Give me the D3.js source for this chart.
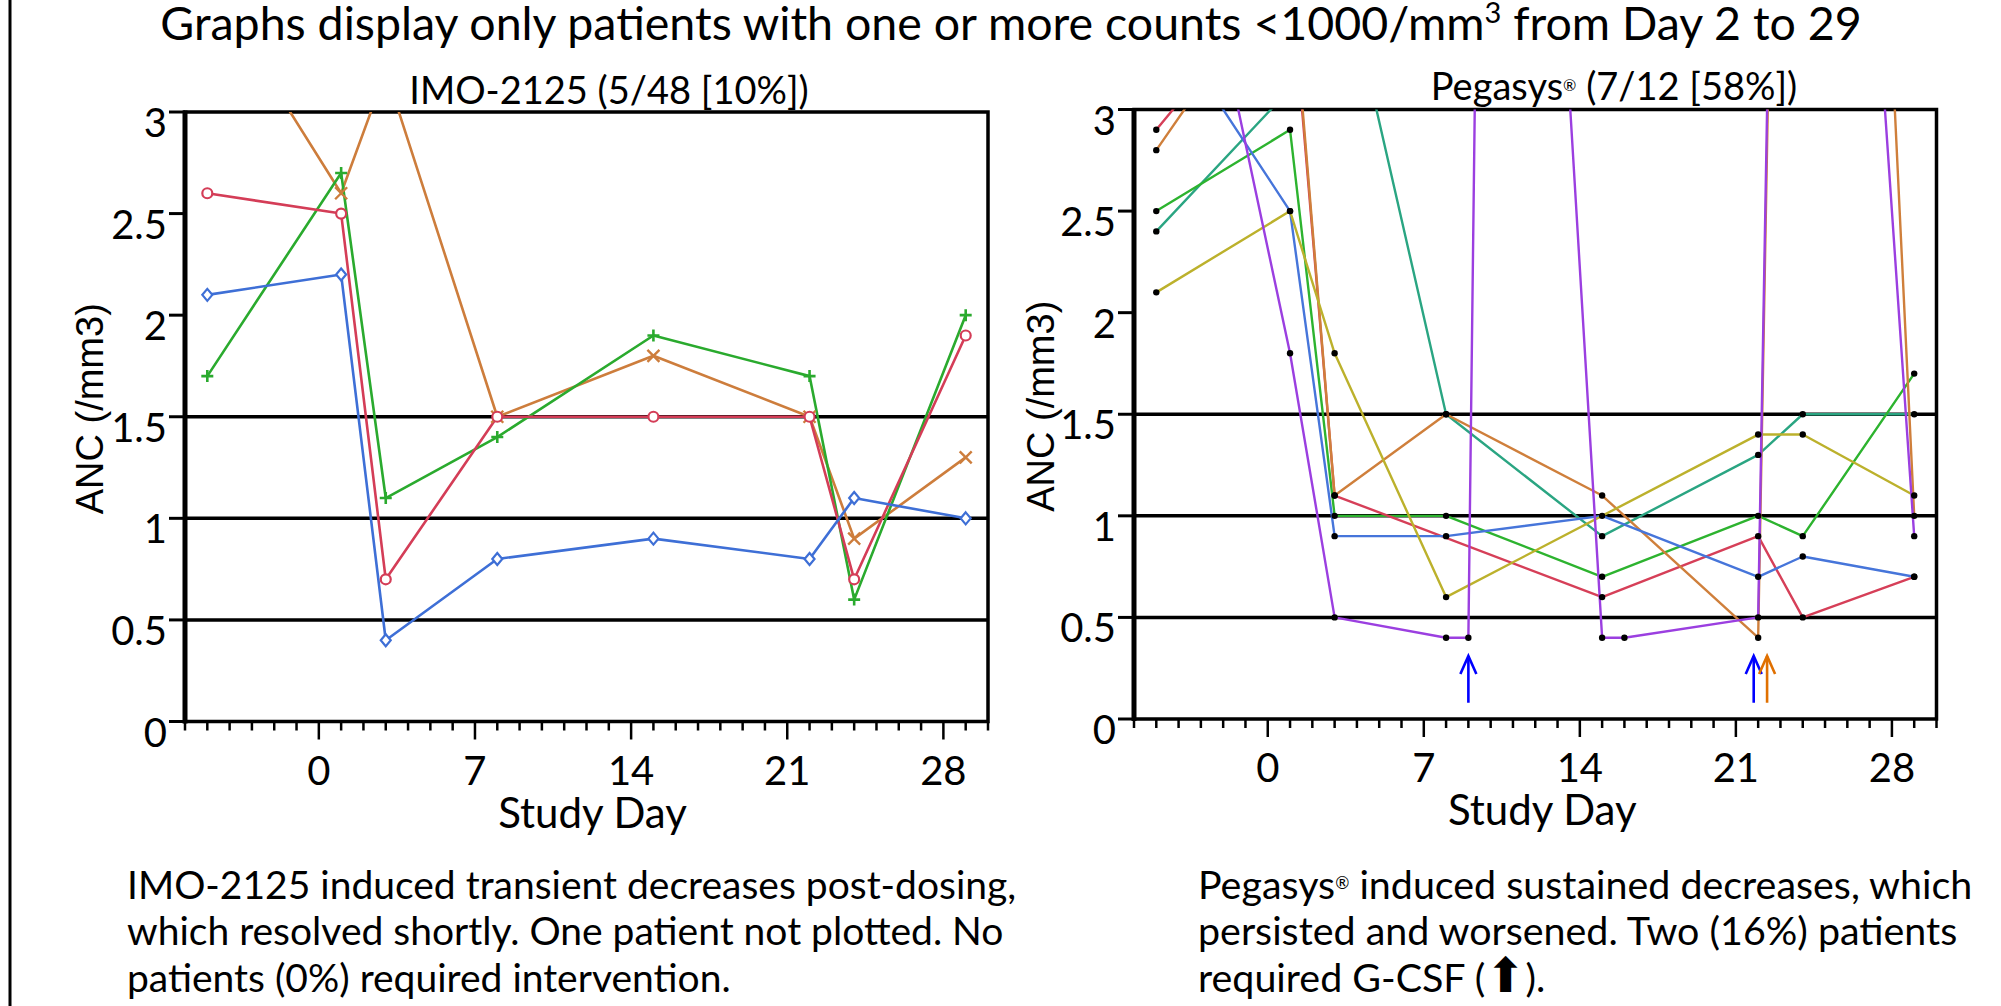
<!DOCTYPE html>
<html>
<head>
<meta charset="utf-8">
<script src="https://d3js.org/d3.v7.min.js"></script>
<style>
body { margin: 0; background: #fff; }
text { font-family: Lato, "Open Sans", sans-serif; fill: #000; }
</style>
</head>
<body>
<svg id="chart" width="2001" height="1006"></svg>
<script>
// axes
var xDomain = [-6, 30];
var xTicks = [0, 7, 14, 21, 28];
var yTicks = [0, 0.5, 1, 1.5, 2, 2.5, 3];
var yTickLabels = ["0", "0.5", "1", "1.5", "2", "2.5", "3"];
var refLines = [0.5, 1, 1.5];

// IMO-2125 patients (ANC, /mm3 x1000)
var imoDays = [-5, 1, 3, 8, 15, 22, 24, 29];
var imoBlue = [2.1, 2.2, 0.4, 0.8, 0.9, 0.8, 1.1, 1.0];
var imoRed = [2.6, 2.5, 0.7, 1.5, 1.5, 1.5, 0.7, 1.9];
var imoGreen = [1.7, 2.7, 1.1, 1.4, 1.9, 1.7, 0.6, 2.0];
var imoOrange = [3.65, 2.6, 3.2, 1.5, 1.8, 1.5, 0.9, 1.3];

// Pegasys patients
var pegRedDays = [-5, 1, 3, 15, 22, 24, 29];
var pegRed = [2.9, 3.7, 1.1, 0.6, 0.9, 0.5, 0.7];
var pegOrangeDays = [-5, 1, 3, 8, 15, 22, 24, 29];
var pegOrange = [2.8, 3.75, 1.1, 1.5, 1.1, 0.4, 12.5, 1.0];
var pegGreenDays = [-5, 1, 3, 8, 15, 22, 24, 29];
var pegGreen = [2.5, 2.9, 1.0, 1.0, 0.7, 1.0, 0.9, 1.7];
var pegTealDays = [-5, 1, 3, 8, 15, 22, 24, 29];
var pegTeal = [2.4, 3.1, 3.9, 1.5, 0.9, 1.3, 1.5, 1.5];
var pegBlueDays = [-5, 1, 3, 8, 15, 22, 24, 29];
var pegBlue = [3.5, 2.5, 0.9, 0.9, 1.0, 0.7, 0.8, 0.7];
var pegYellowDays = [-5, 1, 3, 8, 22, 24, 29];
var pegYellow = [2.1, 2.5, 1.8, 0.6, 1.4, 1.4, 1.1];
var pegPurpleDays = [-5, 1, 3, 8, 9, 10, 15, 16, 22, 24, 25, 29];
var pegPurple = [4.9, 1.8, 0.5, 0.4, 0.4, 9.5, 0.4, 0.4, 0.5, 13.0, 7.3, 0.9];

// G-CSF given (arrows)
var gcsfDays = [9, 21.8, 22.4];
var gcsfGroup = ["a", "a", "b"];

var svg = d3.select("#chart");

function zip(days, vals) {
    return days.map(function(d, i) { return {day: d, v: vals[i]}; });
}

var imoSeries = [
    {pts: zip(imoDays, imoOrange), color: "#cd7d3c", mark: "x"},
    {pts: zip(imoDays, imoGreen), color: "#2aaa2e", mark: "plus"},
    {pts: zip(imoDays, imoRed), color: "#d43d57", mark: "circle"},
    {pts: zip(imoDays, imoBlue), color: "#3e6fd6", mark: "diamond"}
];

var pegSeries = [
    {pts: zip(pegTealDays, pegTeal), color: "#2aa582", mark: "dot"},
    {pts: zip(pegGreenDays, pegGreen), color: "#2db32f", mark: "dot"},
    {pts: zip(pegRedDays, pegRed), color: "#d63f58", mark: "dot"},
    {pts: zip(pegOrangeDays, pegOrange), color: "#cf7f3b", mark: "dot"},
    {pts: zip(pegBlueDays, pegBlue), color: "#4675da", mark: "dot"},
    {pts: zip(pegYellowDays, pegYellow), color: "#bcb12c", mark: "dot"},
    {pts: zip(pegPurpleDays, pegPurple), color: "#9b3fe0", mark: "dot"}
];

// outer frame line on the left
svg.append("line").attr("x1", 10).attr("x2", 10).attr("y1", 0).attr("y2", 1006)
    .attr("stroke", "#000").attr("stroke-width", 3);

// main title
var title = svg.append("text").attr("x", 1011).attr("y", 40)
    .attr("text-anchor", "middle").style("font-size", "46.5px");
title.append("tspan").text("Graphs display only patients with one or more counts <1000/mm");
title.append("tspan").attr("baseline-shift", "super").style("font-size", "29px").text("3");
title.append("tspan").text(" from Day 2 to 29");

function panel(p) {
    var x = d3.scaleLinear().domain(xDomain).range([p.left, p.right]);
    var y = d3.scaleLinear().domain([0, 3]).range([p.bottom, p.top]);
    var g = svg.append("g");

    // reference lines
    g.selectAll(".ref").data(refLines).enter().append("line")
        .attr("x1", p.left).attr("x2", p.right)
        .attr("y1", function(d) { return y(d); }).attr("y2", function(d) { return y(d); })
        .attr("stroke", "#000").attr("stroke-width", 3.5);

    // y ticks + labels
    g.selectAll(".yt").data(yTicks).enter().append("line")
        .attr("x1", p.left - 16).attr("x2", p.left)
        .attr("y1", function(d) { return y(d); }).attr("y2", function(d) { return y(d); })
        .attr("stroke", "#000").attr("stroke-width", 3);
    g.selectAll(".yl").data(yTicks).enter().append("text")
        .attr("x", p.left - 18).attr("y", function(d) { return y(d) + 25; })
        .attr("text-anchor", "end").style("font-size", "40px")
        .text(function(d, i) { return yTickLabels[i]; });

    // x ticks: minor every day, major weekly
    g.selectAll(".xt").data(d3.range(xDomain[0], xDomain[1] + 1)).enter().append("line")
        .attr("x1", function(d) { return x(d); }).attr("x2", function(d) { return x(d); })
        .attr("y1", p.bottom)
        .attr("y2", function(d) { return p.bottom + (xTicks.indexOf(d) >= 0 ? 18 : 9); })
        .attr("stroke", "#000").attr("stroke-width", 2.5);
    g.selectAll(".xl").data(xTicks).enter().append("text")
        .attr("x", function(d) { return x(d); }).attr("y", p.bottom + 63)
        .attr("text-anchor", "middle").style("font-size", "40px")
        .text(function(d) { return d; });

    // frame
    g.append("rect").attr("x", p.left).attr("y", p.top)
        .attr("width", p.right - p.left).attr("height", p.bottom - p.top)
        .attr("fill", "none").attr("stroke", "#000").attr("stroke-width", 3.5);
    g.append("line").attr("x1", p.left).attr("x2", p.left).attr("y1", p.top - 1.5).attr("y2", p.bottom + 2)
        .attr("stroke", "#000").attr("stroke-width", 5);

    // data, clipped to plot area
    svg.append("clipPath").attr("id", p.id).append("rect")
        .attr("x", p.left).attr("y", p.top).attr("width", p.right - p.left).attr("height", p.bottom - p.top);
    var plot = g.append("g").attr("clip-path", "url(#" + p.id + ")");
    var line = d3.line().x(function(d) { return x(d.day); }).y(function(d) { return y(d.v); });

    p.series.forEach(function(s) {
        plot.append("path").datum(s.pts).attr("d", line)
            .attr("fill", "none").attr("stroke", s.color).attr("stroke-width", p.lw)
            .attr("stroke-linejoin", "round");
    });
    p.series.forEach(function(s) {
        var m = plot.selectAll(null).data(s.pts).enter().append("g")
            .attr("transform", function(d) { return "translate(" + x(d.day) + "," + y(d.v) + ")"; });
        if (s.mark == "dot") {
            m.append("circle").attr("r", 3.2).attr("fill", "#000");
        } else if (s.mark == "circle") {
            m.append("circle").attr("r", 5).attr("fill", "#fff").attr("stroke", s.color).attr("stroke-width", 2.2);
        } else if (s.mark == "diamond") {
            m.append("path").attr("d", "M0,-6L5,0L0,6L-5,0Z").attr("fill", "#fff")
                .attr("stroke", s.color).attr("stroke-width", 2.2);
        } else if (s.mark == "plus") {
            m.append("path").attr("d", "M-6,0H6M0,-6V6").attr("stroke", s.color).attr("stroke-width", 2.6);
        } else {
            m.append("path").attr("d", "M-6,-6L6,6M-6,6L6,-6").attr("stroke", s.color).attr("stroke-width", 2.4);
        }
    });

    // panel title
    var t = svg.append("text").attr("x", p.titleX).attr("y", p.titleY)
        .attr("text-anchor", "middle").style("font-size", "38px");
    p.title(t);

    // axis titles
    svg.append("text").attr("x", (p.left + p.right) / 2 + p.xLabDx).attr("y", p.bottom + 106)
        .attr("text-anchor", "middle").style("font-size", "42px").text("Study Day");
    svg.append("text")
        .attr("transform", "translate(" + p.yLabX + "," + ((p.top + p.bottom) / 2 - 8) + ") rotate(-90)")
        .attr("text-anchor", "middle")
        .style("font-family", "'Liberation Sans', Arial, sans-serif").style("font-size", "38px")
        .text("ANC (/mm3)");

    return {x: x, y: y, g: g};
}

panel({
    id: "clipImo", left: 185, right: 988, top: 112, bottom: 721.5, lw: 2.6,
    series: imoSeries, titleX: 609, titleY: 104, xLabDx: 6, yLabX: 103,
    title: function(t) { t.text("IMO-2125 (5/48 [10%])"); }
});

var peg = panel({
    id: "clipPeg", left: 1134, right: 1936.5, top: 109.5, bottom: 719, lw: 2.4,
    series: pegSeries, titleX: 1614, titleY: 100, xLabDx: 7, yLabX: 1054,
    title: function(t) {
        t.append("tspan").text("Pegasys");
        t.append("tspan").attr("baseline-shift", "super").style("font-size", "16px").text("®");
        t.append("tspan").text(" (7/12 [58%])");
    }
});

// G-CSF arrows
var arrowColor = {a: "#0000ff", b: "#e07000"};
var arrows = peg.g.selectAll(".gcsf").data(gcsfDays).enter().append("g")
    .attr("transform", function(d) { return "translate(" + peg.x(d) + ",0)"; })
    .attr("stroke", function(d, i) { return arrowColor[gcsfGroup[i]]; })
    .attr("stroke-width", 2.6).attr("fill", "none");
arrows.append("line").attr("x1", 0).attr("x2", 0).attr("y1", peg.y(0.08)).attr("y2", peg.y(0.31));
arrows.append("path").attr("d", "M-8," + (peg.y(0.31) + 18) + "L0," + peg.y(0.31) + "L8," + (peg.y(0.31) + 18));

// notes under the charts
var leftNote = ["IMO-2125 induced transient decreases post-dosing,",
    "which resolved shortly. One patient not plotted. No",
    "patients (0%) required intervention."];
svg.selectAll(".ln").data(leftNote).enter().append("text")
    .attr("x", 127).attr("y", function(d, i) { return 899 + i * 46.3; })
    .style("font-size", "39px").text(function(d) { return d; });

var r1 = svg.append("text").attr("x", 1198).attr("y", 899).style("font-size", "39.4px");
r1.append("tspan").text("Pegasys");
r1.append("tspan").attr("baseline-shift", "super").style("font-size", "17px").text("®");
r1.append("tspan").text(" induced sustained decreases, which");
svg.append("text").attr("x", 1198).attr("y", 945.3).style("font-size", "39.4px")
    .text("persisted and worsened. Two (16%) patients");
var r3 = svg.append("text").attr("x", 1198).attr("y", 991.6).style("font-size", "39.4px");
r3.append("tspan").text("required G-CSF (");
r3.append("tspan").style("font-family", "'DejaVu Sans'").style("font-size", "48px").text("\u2B06");
r3.append("tspan").text(").");
</script>
</body>
</html>
